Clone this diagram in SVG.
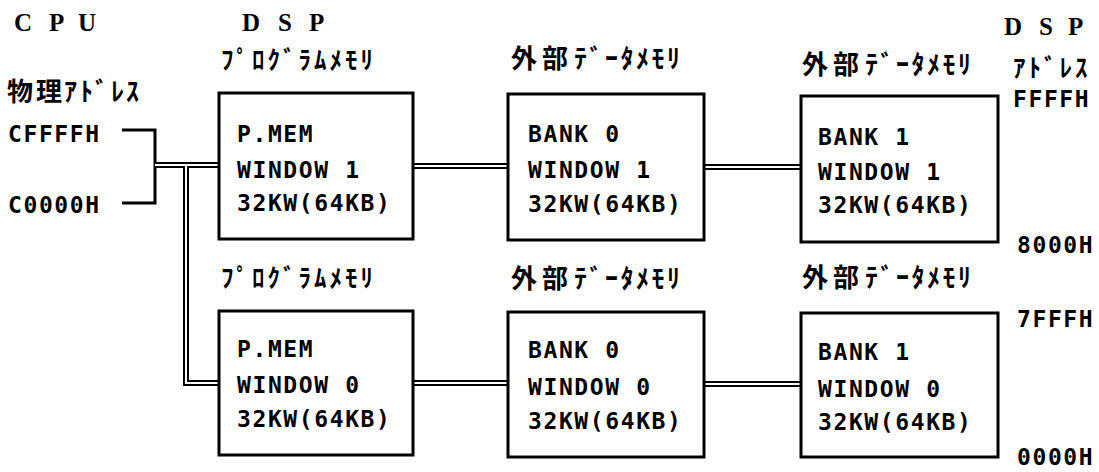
<svg xmlns="http://www.w3.org/2000/svg" width="1099" height="472" viewBox="0 0 1099 472">
<style>
.box{fill:#fff;stroke:#000;stroke-width:3}
.m{font-family:"DejaVu Sans Mono","Liberation Mono",monospace;font-weight:bold;font-size:23px;letter-spacing:1.6px;fill:#000}
.j{font-family:"Noto Sans CJK JP","Noto Sans",sans-serif;font-weight:bold;font-size:25px;fill:#000}
.k{font-family:"Noto Sans CJK JP","Noto Sans",sans-serif;font-weight:bold;font-size:26px;fill:#000}
.h{font-family:"Liberation Serif",serif;font-weight:bold;font-size:25px;fill:#000}
.bo{fill:none;stroke:#000;stroke-width:6}
.bi{fill:none;stroke:#fff;stroke-width:2}
.br{fill:none;stroke:#000;stroke-width:3}
</style>
<rect width="1099" height="472" fill="#fff"/>
<g id="connectors">
<path class="br" d="M122,130 H155 V203 H122"/>
<g class="bo">
<path d="M155,165 H219"/>
<path d="M186,165 V383 H219"/>
<path d="M413,166 H508"/>
<path d="M704,167 H801"/>
<path d="M413,383 H508"/>
<path d="M704,384 H801"/>
</g>
<g class="bi">
<path d="M155,165 H219"/>
<path d="M186,165 V383 H219"/>
<path d="M413,166 H508"/>
<path d="M704,167 H801"/>
<path d="M413,383 H508"/>
<path d="M704,384 H801"/>
</g>
</g>
<g id="labels">
<text class="h" x="14 32 49 64 78" y="31">C P U</text>
<text class="h" x="242 260 278 295 309" y="31">D S P</text>
<text class="h" x="1004 1022 1039 1055 1068" y="35">D S P</text>
<text class="k" x="7 36 64 80 95 111 126" y="101">物理ｱﾄﾞﾚｽ</text>
<text class="m" x="8" y="142">CFFFFH</text>
<text class="m" x="8" y="213">C0000H</text>
<text class="j" x="1013 1028.5 1044 1059.5 1075" y="77">ｱﾄﾞﾚｽ</text>
<text class="m" x="1013" y="107">FFFFH</text>
<text class="m" x="1017" y="253">8000H</text>
<text class="m" x="1017" y="327">7FFFH</text>
<text class="m" x="1017" y="465">0000H</text>
</g>
<g id="pmem1">
<text class="j" x="221 236.5 252 267.5 283 298.5 314 329.5 345 360.5" y="69">ﾌﾟﾛｸﾞﾗﾑﾒﾓﾘ</text>
<rect class="box" x="219" y="93" width="194" height="146"/>
<text class="m" x="237" y="142">P.MEM</text>
<text class="m" x="237" y="178">WINDOW 1</text>
<text class="m" x="237" y="211">32KW(64KB)</text>
</g>
<g id="bank0w1">
<text class="k" x="511 542 574 589.5 605 620.5 636 651.5 667" y="68">外部ﾃﾞｰﾀﾒﾓﾘ</text>
<rect class="box" x="508" y="94" width="196" height="146"/>
<text class="m" x="528" y="142">BANK 0</text>
<text class="m" x="528" y="178">WINDOW 1</text>
<text class="m" x="528" y="212">32KW(64KB)</text>
</g>
<g id="bank1w1">
<text class="k" x="802 833 865 880.5 896 911.5 927 942.5 958" y="74">外部ﾃﾞｰﾀﾒﾓﾘ</text>
<rect class="box" x="801" y="96" width="197" height="146"/>
<text class="m" x="818" y="145">BANK 1</text>
<text class="m" x="818" y="180">WINDOW 1</text>
<text class="m" x="818" y="213">32KW(64KB)</text>
</g>
<g id="pmem0">
<text class="j" x="221 236.5 252 267.5 283 298.5 314 329.5 345 360.5" y="287">ﾌﾟﾛｸﾞﾗﾑﾒﾓﾘ</text>
<rect class="box" x="219" y="311" width="194" height="144"/>
<text class="m" x="237" y="357">P.MEM</text>
<text class="m" x="237" y="393">WINDOW 0</text>
<text class="m" x="237" y="427">32KW(64KB)</text>
</g>
<g id="bank0w0">
<text class="k" x="511 542 574 589.5 605 620.5 636 651.5 667" y="288">外部ﾃﾞｰﾀﾒﾓﾘ</text>
<rect class="box" x="508" y="312" width="196" height="145"/>
<text class="m" x="528" y="358">BANK 0</text>
<text class="m" x="528" y="395">WINDOW 0</text>
<text class="m" x="528" y="429">32KW(64KB)</text>
</g>
<g id="bank1w0">
<text class="k" x="802 833 865 880.5 896 911.5 927 942.5 958" y="287">外部ﾃﾞｰﾀﾒﾓﾘ</text>
<rect class="box" x="801" y="313" width="197" height="144"/>
<text class="m" x="818" y="360">BANK 1</text>
<text class="m" x="818" y="397">WINDOW 0</text>
<text class="m" x="818" y="430">32KW(64KB)</text>
</g>
</svg>
